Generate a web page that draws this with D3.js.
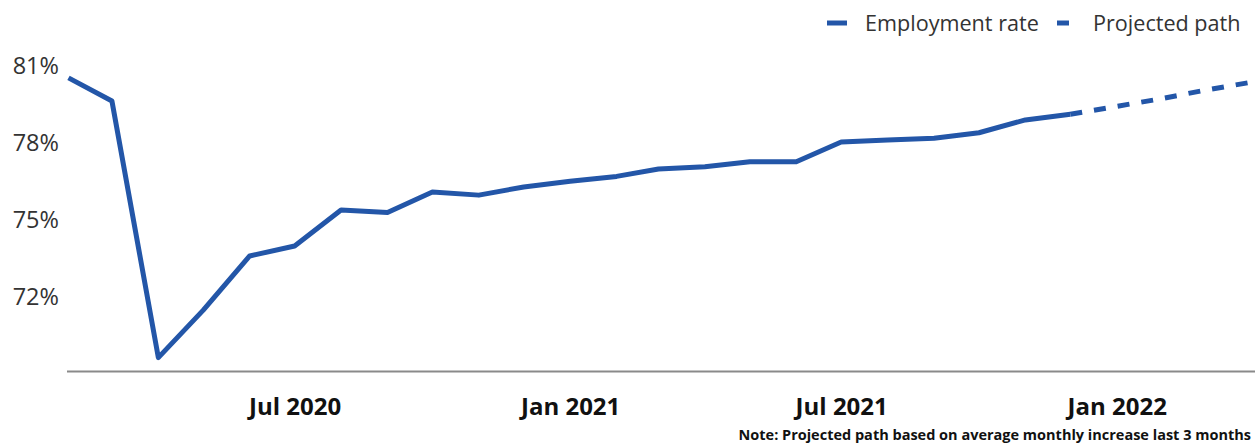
<!DOCTYPE html>
<html>
<head>
<meta charset="utf-8">
<script src="https://cdn.jsdelivr.net/npm/d3@7/dist/d3.min.js"></script>
<style>
  html, body { margin: 0; padding: 0; background: #fff; }
  svg { display: block; font-family: "Open Sans", sans-serif; }
</style>
</head>
<body>
<svg id="chart" width="1255" height="443"></svg>
<script>
// Monthly employment rate (%), Feb 2020 – Dec 2021
const months = [
  "2020-02","2020-03","2020-04","2020-05","2020-06","2020-07","2020-08","2020-09",
  "2020-10","2020-11","2020-12","2021-01","2021-02","2021-03","2021-04","2021-05",
  "2021-06","2021-07","2021-08","2021-09","2021-10","2021-11","2021-12"
];
const employmentRate = [
  80.5, 79.6, 69.6, 71.45, 73.56, 73.95, 75.35, 75.25,
  76.05, 75.93, 76.25, 76.47, 76.66, 76.95, 77.04, 77.23,
  77.23, 78.0, 78.08, 78.15, 78.36, 78.86, 79.08
];

// Projected path, Dec 2021 – Apr 2022
const projMonths = ["2021-12","2022-01","2022-02","2022-03","2022-04"];
const projRate = [79.08, 79.39, 79.7, 80.02, 80.33];

const xTicks = ["2020-07","2021-01","2021-07","2022-01"];
const yTicks = [72, 75, 78, 81];

const legendItems = ["Employment rate", "Projected path"];
const noteText = "Note: Projected path based on average monthly increase last 3 months";

const parse = d3.timeParse("%Y-%m");
const blue = "#2356a8";

const svg = d3.select("#chart");

const x = d3.scaleTime()
  .domain([parse("2020-02"), parse("2022-04")])
  .range([68.5, 1251.5]);

const y = d3.scaleLinear()
  .domain([69, 81])
  .range([373, 65]);

// Y axis labels (no line, no ticks)
const yAxis = d3.axisLeft(y)
  .tickValues(yTicks)
  .tickSize(0)
  .tickFormat(d => d + "%");
const yg = svg.append("g").attr("transform", "translate(59,0)").call(yAxis);
yg.select(".domain").remove();
yg.selectAll("text")
  .attr("x", 0)
  .attr("dy", "0.35em")
  .style("font-family", "'Open Sans', sans-serif")
  .style("font-size", "23.5px")
  .attr("fill", "#333");

// X axis baseline
svg.append("line")
  .attr("x1", 67).attr("x2", 1255)
  .attr("y1", 371.5).attr("y2", 371.5)
  .attr("stroke", "#8a8a8a")
  .attr("stroke-width", 2);

// X axis labels
const xAxis = d3.axisBottom(x)
  .tickValues(xTicks.map(parse))
  .tickSize(0)
  .tickFormat(d3.timeFormat("%b %Y"));
const xg = svg.append("g").attr("transform", "translate(0,415)").call(xAxis);
xg.select(".domain").remove();
xg.selectAll("text")
  .attr("y", 0)
  .attr("dy", 0)
  .style("font-family", "'Open Sans', sans-serif")
  .style("font-size", "24px")
  .style("font-weight", "700")
  .attr("fill", "#111");

const line = d3.line()
  .x(d => x(d[0]))
  .y(d => y(d[1]));

// Projected path (dashed)
svg.append("path")
  .datum(projMonths.map((m, i) => [parse(m), projRate[i]]))
  .attr("d", line)
  .attr("fill", "none")
  .attr("stroke", blue)
  .attr("stroke-width", 5)
  .attr("stroke-dasharray", "12,12");

// Actual employment rate (solid)
svg.append("path")
  .datum(months.map((m, i) => [parse(m), employmentRate[i]]))
  .attr("d", line)
  .attr("fill", "none")
  .attr("stroke", blue)
  .attr("stroke-width", 5)
  .attr("stroke-linejoin", "round");

// Legend
const legend = svg.append("g").attr("class", "legend");
legend.append("line")
  .attr("x1", 827).attr("x2", 847).attr("y1", 23).attr("y2", 23)
  .attr("stroke", blue).attr("stroke-width", 5);
legend.append("text")
  .attr("x", 865).attr("y", 31)
  .style("font-size", "21.6px").attr("fill", "#333")
  .text(legendItems[0]);
legend.append("line")
  .attr("x1", 1057).attr("x2", 1069).attr("y1", 23).attr("y2", 23)
  .attr("stroke", blue).attr("stroke-width", 5);
legend.append("text")
  .attr("x", 1093).attr("y", 31)
  .style("font-size", "21.6px").attr("fill", "#333")
  .text(legendItems[1]);

// Footnote
svg.append("text")
  .attr("x", 1251).attr("y", 440)
  .attr("text-anchor", "end")
  .style("font-size", "14.5px")
  .style("font-weight", "700")
  .attr("fill", "#111")
  .text(noteText);
</script>
</body>
</html>
